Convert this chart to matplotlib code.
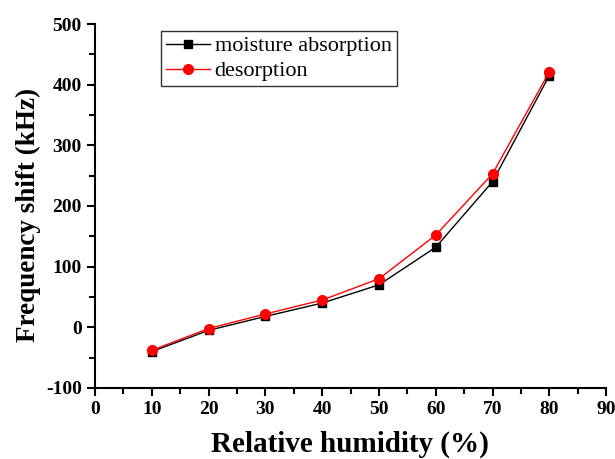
import matplotlib
matplotlib.use("Agg")
import matplotlib.pyplot as plt
from matplotlib.ticker import MultipleLocator

rh = [10, 20, 30, 40, 50, 60, 70, 80]
absorption = [-40, -5, 18, 40, 70, 132, 240, 415]
desorption = [-38, -2, 22, 45, 80, 152, 253, 421]

plt.rcParams['font.family'] = ['Liberation Serif', 'DejaVu Serif']
plt.rcParams['axes.unicode_minus'] = False

fig = plt.figure(figsize=(6.15, 4.59), dpi=100)
ax = fig.add_axes([0.1545, 0.1547, 0.831, 0.793])

ax.plot(rh, absorption, color='black', marker='s', markersize=6, linewidth=1, label='moisture absorption')
ax.plot(rh, desorption, color='red', marker='o', markersize=7, linewidth=1, label='desorption')

ax.set_xlim(0, 90)
ax.set_ylim(-100, 500)
ax.xaxis.set_major_locator(MultipleLocator(10))
ax.xaxis.set_minor_locator(MultipleLocator(5))
ax.yaxis.set_major_locator(MultipleLocator(100))
ax.yaxis.set_minor_locator(MultipleLocator(50))
ax.spines['top'].set_visible(False)
ax.spines['right'].set_visible(False)
for s in ('left', 'bottom'):
    ax.spines[s].set_linewidth(1.5)
ax.tick_params(which='major', direction='out', length=6, width=1.5, labelsize=14)
ax.tick_params(which='minor', direction='out', length=4, width=1.5)
for lab in ax.get_xticklabels() + ax.get_yticklabels():
    lab.set_fontweight('bold')

ax.set_xlabel('Relative humidity (%)', fontsize=21, fontweight='bold')
ax.set_ylabel('Frequency shift (kHz)', fontsize=19.5, fontweight='bold')
ax.xaxis.set_label_coords(0.499, -0.117)
ax.yaxis.set_label_coords(-0.106, 0.475)

leg = ax.legend(loc='upper left', bbox_to_anchor=(0.129, 0.981), fontsize=16,
                frameon=True, fancybox=False, edgecolor='black', handlelength=2.0,
                handletextpad=0.2, borderpad=0.22, labelspacing=0.2, borderaxespad=0)
leg.get_frame().set_linewidth(1)

fig.savefig('out.png', dpi=100)
